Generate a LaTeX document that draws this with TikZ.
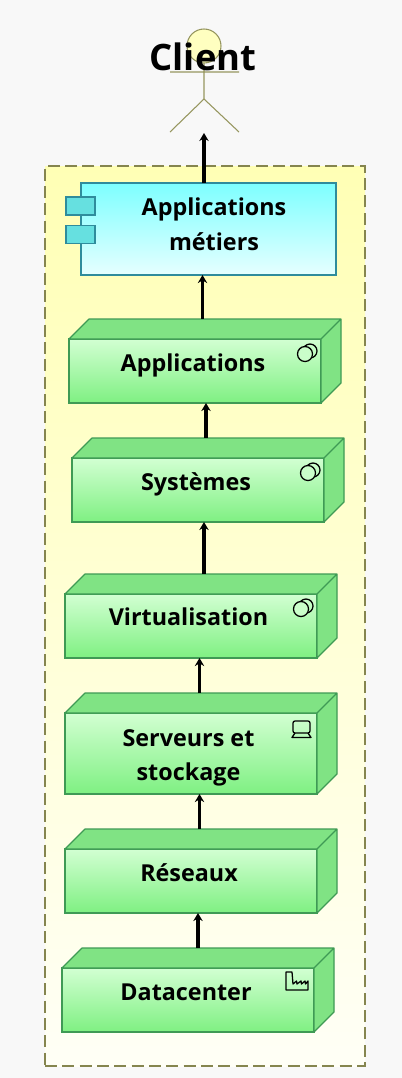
\documentclass[tikz,border=0pt]{standalone}
\usepackage{fontspec}
\setmainfont{Open Sans}
\usetikzlibrary{arrows.meta}

\definecolor{pagegray}{HTML}{F8F8F8}
\definecolor{groupline}{HTML}{85854F}
\definecolor{groupfill}{HTML}{FFFFB5}
\definecolor{groupfade}{HTML}{FFFFF6}
\definecolor{actorline}{HTML}{96965F}
\definecolor{actorfill}{HTML}{FFFFC0}
\definecolor{cubeline}{HTML}{3F9A55}
\definecolor{cubeface}{HTML}{80E384}
\definecolor{cubelight}{HTML}{D2FFD2}
\definecolor{cubedark}{HTML}{7FF082}
\definecolor{compline}{HTML}{2F8C9C}
\definecolor{compfill}{HTML}{7DFFFF}
\definecolor{compfade}{HTML}{E6FFFF}
\definecolor{comptab}{HTML}{66E0E0}

\tikzset{
    cube/.style={
        draw=cubeline, line width=0.9pt, inner sep=0pt, outer sep=0pt,
        minimum width=189pt, top color=cubelight, bottom color=cubedark
    },
    cubeside/.style={draw=cubeline, fill=cubeface, line width=0.9pt, line join=round},
    boxtext/.style={font=\fontsize{17.5}{26}\selectfont\bfseries, align=center, inner sep=0pt},
    flow/.style={-{Stealth[length=6pt,width=7pt]}, line width=2.7pt, black},
    actorstroke/.style={draw=actorline, line width=0.8pt},
    icon/.style={draw=black, line width=0.95pt, line join=round},
    tab/.style={draw=compline, fill=comptab, line width=0.9pt, inner sep=0pt, outer sep=0pt,
        minimum width=21.75pt, minimum height=13.5pt},
    pics/serviceicon/.style={code={
        \draw[icon] (-11,12) circle[radius=7];
        \draw[icon, fill=cubelight!90!cubedark] (-16,15) circle[radius=7.5];
    }},
    pics/laptopicon/.style={code={
        \draw[icon, rounded corners=1.5pt] (-7,20) -- (-7,8) -- (-24,8) -- (-24,20) -- cycle;
        \draw[icon] (-22,20) -- (-25,24.5) -- (-6,24.5) -- (-9,20);
    }},
    pics/factoryicon/.style={code={
        \draw[icon] (-28,22) -- (-28,4) -- (-22,4) -- (-21,16) -- (-17.5,13) -- (-17,16)
            -- (-13,13) -- (-12.5,16) -- (-9,13) -- (-8.5,16) -- (-6,13) -- (-6,22) -- cycle;
    }}
}

\begin{document}
\begin{tikzpicture}[x=0.75pt,y=-0.75pt]
    \path[use as bounding box, fill=pagegray] (0,0) rectangle (402,1078);

    % group
    \node[draw=groupline, dashed, dash pattern=on 9pt off 4pt, line width=0.9pt, inner sep=0pt,
        minimum width=240pt, minimum height=675pt, top color=groupfill, bottom color=groupfade]
        (group) at (205,616) {};

    % actor
    \node[circle, actorstroke, fill=actorfill, minimum size=25.5pt, inner sep=0pt, outer sep=0pt]
        (head) at (204,46) {};
    \coordinate (hip) at (204,99);
    \coordinate (armleft) at (170,72);
    \coordinate (armright) at (239,72);
    \coordinate (footleft) at (170,132);
    \coordinate (footright) at (239,132);
    \draw[actorstroke] (head.south) -- (hip) (armleft) -- (armright)
        (footleft) -- (hip) -- (footright);
    \node[font=\fontsize{27.3}{27}\selectfont\bfseries, inner sep=0pt] (client) at (203,57) {Client};

    % component
    \node[draw=compline, line width=0.9pt, inner sep=0pt, outer sep=0pt, minimum width=191.25pt,
        minimum height=69pt, top color=compfill, bottom color=compfade] (metier) at (208.5,229) {};
    \node[tab] (tabup) at (80.5,206) {};
    \node[tab] (tabdown) at (80.5,234.5) {};
    \node[boxtext] (metierlabel) at (214,224) {Applications\\métiers};

    % layers
    \node[cube, minimum height=48pt] (applications) at (195,371) {};
    \node[cube, minimum height=48pt] (systemes) at (198,490) {};
    \node[cube, minimum height=48pt] (virtualisation) at (191,626) {};
    \node[cube, minimum height=60.75pt] (serveurs) at (191,753.5) {};
    \node[cube, minimum height=48pt] (reseaux) at (191,881) {};
    \node[cube, minimum height=48pt] (datacenter) at (188,1000) {};

    \foreach \boxname in {applications,systemes,virtualisation,serveurs,reseaux,datacenter} {
        \draw[cubeside] (\boxname.north west) -- ++(20,-20)
            -- ([shift={(20,-20)}]\boxname.north east)
            -- ([shift={(20,-20)}]\boxname.south east)
            -- (\boxname.south east) -- (\boxname.north east) -- cycle
            (\boxname.north east) -- ++(20,-20);
    }

    \node[boxtext] (applicationslabel) at (193,365) {Applications};
    \node[boxtext] (systemeslabel) at (196,484) {Systèmes};
    \node[boxtext] (virtualisationlabel) at (188.5,617) {Virtualisation};
    \node[boxtext] (serveurslabel) at (188.5,758) {Serveurs et\\stockage};
    \node[boxtext] (reseauxlabel) at (189,873) {Réseaux};
    \node[boxtext] (datacenterlabel) at (186,992) {Datacenter};

    \pic at (applications.north east) {serviceicon};
    \pic at (systemes.north east) {serviceicon};
    \pic at (virtualisation.north east) {serviceicon};
    \pic at (serveurs.north east) {laptopicon};
    \pic at (datacenter.north east) {factoryicon};

    % arrows
    \draw[flow] ([shift={(-4.5,0)}]metier.north) -- ([shift={(0,1)}]hip |- footleft);
    \draw[flow] ([shift={(7.5,-20)}]applications.north) -- ([shift={(-6,0)}]metier.south);
    \draw[flow] ([shift={(8,-20)}]systemes.north) -- ([shift={(11,0)}]applications.south);
    \draw[flow] ([shift={(13,-20)}]virtualisation.north) -- ([shift={(6,0)}]systemes.south);
    \draw[flow] ([shift={(8.5,-20)}]serveurs.north) -- ([shift={(8.5,0)}]virtualisation.south);
    \draw[flow] ([shift={(8.5,-20)}]reseaux.north) -- ([shift={(8.5,0)}]serveurs.south);
    \draw[flow] ([shift={(10,-20)}]datacenter.north) -- ([shift={(7,0)}]reseaux.south);
\end{tikzpicture}
\end{document}
